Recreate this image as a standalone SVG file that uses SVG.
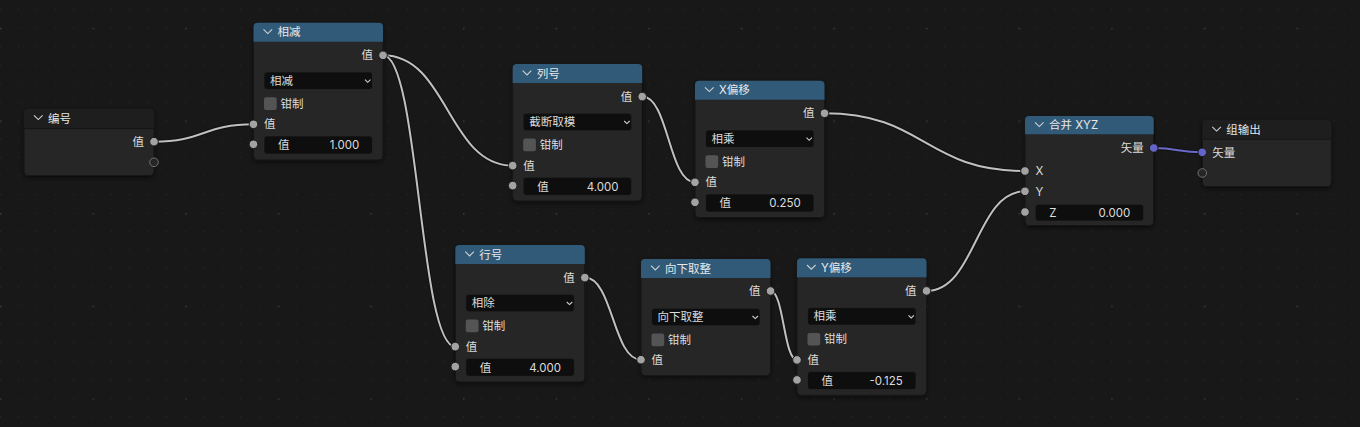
<svg xmlns="http://www.w3.org/2000/svg" width="1360" height="427" viewBox="0 0 1360 427">
<style>
.t{font-family:Inter,"Noto Sans CJK SC",sans-serif;font-size:11.5px;fill:#dcdcdc}
.h{fill:#e8e8e8}
.e{text-anchor:end}
.body{fill:#262626;stroke:#141414;stroke-width:1}
.hdr{fill:#305a78}
.ghdr{fill:#1e1e1e}
.sep{stroke:#161616;stroke-width:1}
.dd{fill:#0e0e0e;stroke:#2c2c2c;stroke-width:0.6}
.cb{fill:#545454}
.s{fill:#a3a3a3;stroke:#1a1a1a;stroke-width:1}
.sv{fill:#6464c8;stroke:#1a1a1a;stroke-width:1}
.se{fill:#262626;stroke:#707070;stroke-width:1}
.chev{fill:none;stroke:#d0d0d0;stroke-width:1.1}
.lbg{fill:none;stroke:#0d0d0d;stroke-width:4;stroke-opacity:0.7}
.l{fill:none;stroke:#c0c0c0;stroke-width:2}
.lv{fill:none;stroke:#6a6acb;stroke-width:2}
</style>
<defs>
<pattern id="grid" patternUnits="userSpaceOnUse" x="0" y="27.8" width="92.6" height="92.6">
<g fill="#2b2b2b">
<rect x="18" y="0" width="1" height="1"/><rect x="36.5" y="0" width="1" height="1"/><rect x="55" y="0" width="1" height="1"/><rect x="73.6" y="0" width="1" height="1"/>
<rect x="0" y="18" width="1" height="1"/><rect x="18" y="18" width="1" height="1"/><rect x="36.5" y="18" width="1" height="1"/><rect x="55" y="18" width="1" height="1"/><rect x="73.6" y="18" width="1" height="1"/>
<rect x="0" y="36.5" width="1" height="1"/><rect x="18" y="36.5" width="1" height="1"/><rect x="36.5" y="36.5" width="1" height="1"/><rect x="55" y="36.5" width="1" height="1"/><rect x="73.6" y="36.5" width="1" height="1"/>
<rect x="0" y="55" width="1" height="1"/><rect x="18" y="55" width="1" height="1"/><rect x="36.5" y="55" width="1" height="1"/><rect x="55" y="55" width="1" height="1"/><rect x="73.6" y="55" width="1" height="1"/>
<rect x="0" y="73.6" width="1" height="1"/><rect x="18" y="73.6" width="1" height="1"/><rect x="36.5" y="73.6" width="1" height="1"/><rect x="55" y="73.6" width="1" height="1"/><rect x="73.6" y="73.6" width="1" height="1"/>
</g>
<rect x="-0.5" y="-0.5" width="2" height="2" fill="#3a3a3a"/>
</pattern>
<filter id="sh" x="-10%" y="-10%" width="120%" height="130%">
<feGaussianBlur in="SourceAlpha" stdDeviation="2.5"/>
<feOffset dx="0" dy="1.5" result="b"/>
<feComponentTransfer><feFuncA type="linear" slope="0.5"/></feComponentTransfer>
<feMerge><feMergeNode/><feMergeNode in="SourceGraphic"/></feMerge>
</filter>
</defs>
<rect width="1360" height="427" fill="#181818"/>
<rect width="1360" height="427" fill="url(#grid)"/>

<g id="connectors">
<path class="lbg" d="M154,141.7 C203.75,141.7 203.75,124.3 253.5,124.3"/>
<path class="l" d="M154,141.7 C203.75,141.7 203.75,124.3 253.5,124.3"/>
<path class="lbg" d="M383,55.3 C447.85,55.3 447.85,165.6 512.7,165.6"/>
<path class="l" d="M383,55.3 C447.85,55.3 447.85,165.6 512.7,165.6"/>
<path class="lbg" d="M383,55.3 C419.15,55.3 419.15,346.6 455.3,346.6"/>
<path class="l" d="M383,55.3 C419.15,55.3 419.15,346.6 455.3,346.6"/>
<path class="lbg" d="M642.2,96.6 C668.6,96.6 668.6,182.3 695,182.3"/>
<path class="l" d="M642.2,96.6 C668.6,96.6 668.6,182.3 695,182.3"/>
<path class="lbg" d="M824.5,113.3 C924.75,113.3 924.75,171 1025,171"/>
<path class="l" d="M824.5,113.3 C924.75,113.3 924.75,171 1025,171"/>
<path class="lbg" d="M584.8,277.6 C612.9,277.6 612.9,359.7 641,359.7"/>
<path class="l" d="M584.8,277.6 C612.9,277.6 612.9,359.7 641,359.7"/>
<path class="lbg" d="M770.5,291 C783.75,291 783.75,359.9 797,359.9"/>
<path class="l" d="M770.5,291 C783.75,291 783.75,359.9 797,359.9"/>
<path class="lbg" d="M926.5,290.9 C975.85,290.9 975.85,191.3 1025,191.3"/>
<path class="l" d="M926.5,290.9 C975.85,290.9 975.85,191.3 1025,191.3"/>
<path class="lbg" d="M1153.7,148 C1178,148 1178,152.3 1202.3,152.3"/>
<path class="lv" d="M1153.7,148 C1178,148 1178,152.3 1202.3,152.3"/>
</g>

<g id="node-biaohao" transform="translate(24,108.7)">
<rect class="body" width="130" height="67" rx="4" filter="url(#sh)"/>
<path class="ghdr" d="M0,20 V4 Q0,0 4,0 H126 Q130,0 130,4 V20 Z"/>
<line class="sep" x1="0" y1="20" x2="130" y2="20"/>
<path class="chev" d="M10,6.7 L14.3,10.9 L18.6,6.7"/>
<text class="t h" x="24" y="14.2">编号</text>
<text class="t e" x="120" y="37.2">值</text>
<circle class="s" cx="130" cy="33" r="4.3"/>
<circle class="se" cx="130" cy="53.6" r="4.3"/>
</g>

<g id="node-xiangjian" transform="translate(253.5,22.7)">
<rect class="body" width="129.5" height="137.3" rx="4" filter="url(#sh)"/>
<path class="hdr" d="M0,19 V4 Q0,0 4,0 H125.5 Q129.5,0 129.5,4 V19 Z"/>
<path class="chev" d="M10,6.7 L14.3,10.9 L18.6,6.7"/>
<text class="t h" x="24" y="13.7">相减</text>
<text class="t e" x="119.5" y="36.8">值</text>
<circle class="s" cx="129.5" cy="32.6" r="4.3"/>
<rect class="dd" x="10.5" y="49.3" width="108.5" height="17.5" rx="3"/>
<text class="t" x="16.5" y="62.2">相减</text>
<path class="chev" d="M111.5,57 L114.2,59.6 L117,57"/>
<rect class="cb" x="10.5" y="74.6" width="12.7" height="12.7" rx="2"/>
<text class="t" x="27" y="85.2">钳制</text>
<circle class="s" cx="0" cy="101.6" r="4.3"/>
<text class="t" x="10.5" y="105.8">值</text>
<rect class="dd" x="10.5" y="113.3" width="108.5" height="18" rx="3"/>
<text class="t" x="24.5" y="126.5">值</text>
<text class="t e" x="105.8" y="126.5">1.000</text>
<circle class="s" cx="0" cy="121.6" r="4.3"/>
</g>

<g id="node-liehao" transform="translate(512.7,64)">
<rect class="body" width="129.5" height="137" rx="4" filter="url(#sh)"/>
<path class="hdr" d="M0,19 V4 Q0,0 4,0 H125.5 Q129.5,0 129.5,4 V19 Z"/>
<path class="chev" d="M10,6.7 L14.3,10.9 L18.6,6.7"/>
<text class="t h" x="24" y="13.7">列号</text>
<text class="t e" x="119.5" y="36.8">值</text>
<circle class="s" cx="129.5" cy="32.6" r="4.3"/>
<rect class="dd" x="10.5" y="49.3" width="108.5" height="17.5" rx="3"/>
<text class="t" x="16.5" y="62.2">截断取模</text>
<path class="chev" d="M111.5,57 L114.2,59.6 L117,57"/>
<rect class="cb" x="10.5" y="74.6" width="12.7" height="12.7" rx="2"/>
<text class="t" x="27" y="85.2">钳制</text>
<circle class="s" cx="0" cy="101.6" r="4.3"/>
<text class="t" x="10.5" y="105.8">值</text>
<rect class="dd" x="10.5" y="113.3" width="108.5" height="18" rx="3"/>
<text class="t" x="24.5" y="126.5">值</text>
<text class="t e" x="105.8" y="126.5">4.000</text>
<circle class="s" cx="0" cy="121.6" r="4.3"/>
</g>

<g id="node-xpianyi" transform="translate(695,80.7)">
<rect class="body" width="129.5" height="137" rx="4" filter="url(#sh)"/>
<path class="hdr" d="M0,19 V4 Q0,0 4,0 H125.5 Q129.5,0 129.5,4 V19 Z"/>
<path class="chev" d="M10,6.7 L14.3,10.9 L18.6,6.7"/>
<text class="t h" x="24" y="13.7">X偏移</text>
<text class="t e" x="119.5" y="36.8">值</text>
<circle class="s" cx="129.5" cy="32.6" r="4.3"/>
<rect class="dd" x="10.5" y="49.3" width="108.5" height="17.5" rx="3"/>
<text class="t" x="16.5" y="62.2">相乘</text>
<path class="chev" d="M111.5,57 L114.2,59.6 L117,57"/>
<rect class="cb" x="10.5" y="74.6" width="12.7" height="12.7" rx="2"/>
<text class="t" x="27" y="85.2">钳制</text>
<circle class="s" cx="0" cy="101.6" r="4.3"/>
<text class="t" x="10.5" y="105.8">值</text>
<rect class="dd" x="10.5" y="113.3" width="108.5" height="18" rx="3"/>
<text class="t" x="24.5" y="126.5">值</text>
<text class="t e" x="105.8" y="126.5">0.250</text>
<circle class="s" cx="0" cy="121.6" r="4.3"/>
</g>

<g id="node-hanghao" transform="translate(455.3,245)">
<rect class="body" width="129.5" height="137" rx="4" filter="url(#sh)"/>
<path class="hdr" d="M0,19 V4 Q0,0 4,0 H125.5 Q129.5,0 129.5,4 V19 Z"/>
<path class="chev" d="M10,6.7 L14.3,10.9 L18.6,6.7"/>
<text class="t h" x="24" y="13.7">行号</text>
<text class="t e" x="119.5" y="36.8">值</text>
<circle class="s" cx="129.5" cy="32.6" r="4.3"/>
<rect class="dd" x="10.5" y="49.3" width="108.5" height="17.5" rx="3"/>
<text class="t" x="16.5" y="62.2">相除</text>
<path class="chev" d="M111.5,57 L114.2,59.6 L117,57"/>
<rect class="cb" x="10.5" y="74.6" width="12.7" height="12.7" rx="2"/>
<text class="t" x="27" y="85.2">钳制</text>
<circle class="s" cx="0" cy="101.6" r="4.3"/>
<text class="t" x="10.5" y="105.8">值</text>
<rect class="dd" x="10.5" y="113.3" width="108.5" height="18" rx="3"/>
<text class="t" x="24.5" y="126.5">值</text>
<text class="t e" x="105.8" y="126.5">4.000</text>
<circle class="s" cx="0" cy="121.6" r="4.3"/>
</g>

<g id="node-xiangxiaquzheng" transform="translate(641,259)">
<rect class="body" width="129.5" height="116.5" rx="4" filter="url(#sh)"/>
<path class="hdr" d="M0,19 V4 Q0,0 4,0 H125.5 Q129.5,0 129.5,4 V19 Z"/>
<path class="chev" d="M10,6.7 L14.3,10.9 L18.6,6.7"/>
<text class="t h" x="24" y="13.7">向下取整</text>
<text class="t e" x="119.5" y="36.2">值</text>
<circle class="s" cx="129.5" cy="32" r="4.3"/>
<rect class="dd" x="10.5" y="49.3" width="108.5" height="17.5" rx="3"/>
<text class="t" x="16.5" y="62.2">向下取整</text>
<path class="chev" d="M111.5,57 L114.2,59.6 L117,57"/>
<rect class="cb" x="10.5" y="74.6" width="12.7" height="12.7" rx="2"/>
<text class="t" x="27" y="85.2">钳制</text>
<circle class="s" cx="0" cy="100.7" r="4.3"/>
<text class="t" x="10.5" y="104.9">值</text>
</g>

<g id="node-ypianyi" transform="translate(797,258.3)">
<rect class="body" width="129.5" height="137" rx="4" filter="url(#sh)"/>
<path class="hdr" d="M0,19 V4 Q0,0 4,0 H125.5 Q129.5,0 129.5,4 V19 Z"/>
<path class="chev" d="M10,6.7 L14.3,10.9 L18.6,6.7"/>
<text class="t h" x="24" y="13.7">Y偏移</text>
<text class="t e" x="119.5" y="36.8">值</text>
<circle class="s" cx="129.5" cy="32.6" r="4.3"/>
<rect class="dd" x="10.5" y="49.3" width="108.5" height="17.5" rx="3"/>
<text class="t" x="16.5" y="62.2">相乘</text>
<path class="chev" d="M111.5,57 L114.2,59.6 L117,57"/>
<rect class="cb" x="10.5" y="74.6" width="12.7" height="12.7" rx="2"/>
<text class="t" x="27" y="85.2">钳制</text>
<circle class="s" cx="0" cy="101.6" r="4.3"/>
<text class="t" x="10.5" y="105.8">值</text>
<rect class="dd" x="10.5" y="113.3" width="108.5" height="18" rx="3"/>
<text class="t" x="24.5" y="126.5">值</text>
<text class="t e" x="105.8" y="126.5">-0.125</text>
<circle class="s" cx="0" cy="121.6" r="4.3"/>
</g>

<g id="node-hebingxyz" transform="translate(1025,116)">
<rect class="body" width="128.7" height="109.7" rx="4" filter="url(#sh)"/>
<path class="hdr" d="M0,18.3 V4 Q0,0 4,0 H124.7 Q128.7,0 128.7,4 V18.3 Z"/>
<path class="chev" d="M10,6.4 L14.3,10.6 L18.6,6.4"/>
<text class="t h" x="24" y="13.3">合并 XYZ</text>
<text class="t e" x="118.7" y="36.2">矢量</text>
<circle class="sv" cx="128.7" cy="32" r="4.3"/>
<circle class="s" cx="0" cy="55" r="4.3"/>
<text class="t" x="10.5" y="59.2">X</text>
<circle class="s" cx="0" cy="75.3" r="4.3"/>
<text class="t" x="10.5" y="79.5">Y</text>
<rect class="dd" x="10.3" y="88.3" width="108.4" height="16.7" rx="3"/>
<text class="t" x="24.3" y="100.8">Z</text>
<text class="t e" x="105.3" y="100.8">0.000</text>
<circle class="s" cx="0" cy="96" r="4.3"/>
</g>

<g id="node-zushuchu" transform="translate(1202.3,120)">
<rect class="body" width="129" height="66.7" rx="4" filter="url(#sh)"/>
<path class="ghdr" d="M0,19.3 V4 Q0,0 4,0 H125 Q129,0 129,4 V19.3 Z"/>
<line class="sep" x1="0" y1="19.3" x2="129" y2="19.3"/>
<path class="chev" d="M10,6.9 L14.3,11.1 L18.6,6.9"/>
<text class="t h" x="24" y="14">组输出</text>
<circle class="sv" cx="0" cy="32.3" r="4.3"/>
<text class="t" x="10" y="36.5">矢量</text>
<circle class="se" cx="0" cy="53" r="4.3"/>
</g>
</svg>
